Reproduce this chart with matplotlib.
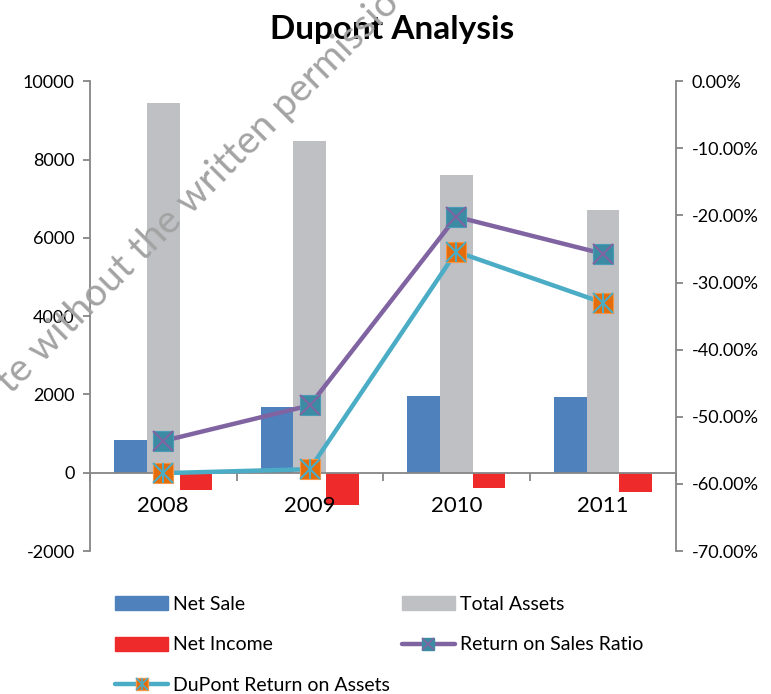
import numpy as np
import matplotlib
matplotlib.use("Agg")
import matplotlib.pyplot as plt
from matplotlib.lines import Line2D
from matplotlib.patches import Patch
from matplotlib.legend_handler import HandlerTuple
from matplotlib.ticker import FuncFormatter, FixedLocator

plt.rcParams['font.family'] = ['Lato', 'DejaVu Sans']
plt.rcParams['axes.unicode_minus'] = False

years = ["2008", "2009", "2010", "2011"]
net_sale = [840, 1680, 1960, 1940]
total_assets = [9450, 8470, 7600, 6710]
net_income = [-430, -820, -380, -480]
return_on_sales = [-0.536, -0.483, -0.202, -0.257]
dupont_roa = [-0.584, -0.578, -0.254, -0.330]

c_sale = '#4F81BD'
c_assets = '#BFC0C4'
c_income = '#EE2A2A'
c_ros = '#8064A2'
c_roa = '#4BACC6'
c_ros_marker = '#3B8CA3'
c_roa_marker = '#E46C0A'
axis_grey = '#868686'

fig = plt.figure(figsize=(7.71, 6.94), dpi=100)
ax = fig.add_axes([0.1167, 0.206, 0.7603, 0.677])
ax.set_axisbelow(False)
ax2 = ax.twinx()

x = np.arange(len(years))
w = 0.2226
ax.bar(x - w, net_sale, w, color=c_sale, zorder=1)
ax.bar(x, total_assets, w, color=c_assets, zorder=1)
ax.bar(x + w, net_income, w, color=c_income, zorder=1)

ax.set_xlim(-0.5, 3.5)
ax.set_ylim(-2000, 10000)
ax.set_yticks(np.arange(-2000, 10001, 2000))

for s in ['top', 'right']:
    ax.spines[s].set_visible(False)
ax.spines['left'].set_color(axis_grey)
ax.spines['left'].set_linewidth(1.3)
ax.spines['bottom'].set_position(('data', 0))
ax.spines['bottom'].set_color(axis_grey)
ax.spines['bottom'].set_linewidth(1.3)
ax.tick_params(axis='y', colors=axis_grey, labelcolor='black', labelsize=13,
               length=5, width=1.3, direction='out', pad=6)
ax.xaxis.set_major_locator(FixedLocator([-0.5, 0.5, 1.5, 2.5, 3.5]))
ax.set_xticklabels([], minor=False)
ax.set_xticks(x, years, minor=True)
ax.tick_params(axis='x', which='major', colors=axis_grey, length=6, width=1.3, direction='out')
ax.tick_params(axis='x', which='minor', length=0, labelsize=16, pad=17, labelcolor='black')
ax.xaxis.set_zorder(3)

ms_sq = 15
ax2.plot(x, return_on_sales, color=c_ros, lw=3.2, zorder=3, solid_capstyle='round')
ax2.plot(x, return_on_sales, ls='none', marker='s', ms=ms_sq, mfc=c_ros_marker, mec='#4A9BB5', mew=0.8, zorder=4)
ax2.plot(x, return_on_sales, ls='none', marker='x', ms=ms_sq - 1, mew=1.5, mec=c_ros, zorder=5)
ax2.plot(x, dupont_roa, color=c_roa, lw=3.2, zorder=3, solid_capstyle='round')
ax2.plot(x, dupont_roa, ls='none', marker='s', ms=ms_sq, mfc=c_roa_marker, mec='#F79646', mew=0.8, zorder=4)
ax2.plot(x, dupont_roa, ls='none', marker='x', ms=ms_sq - 1, mew=1.5, mec=c_roa, zorder=5)
ax2.plot(x, dupont_roa, ls='none', marker='|', ms=ms_sq - 1, mew=1.5, mec=c_roa, zorder=5)

ax2.set_ylim(-0.7, 0)
ax2.set_yticks(np.arange(-0.7, 0.001, 0.1))
ax2.yaxis.set_major_formatter(FuncFormatter(lambda v, p: f"{v*100:.2f}%".replace('-0.00', '0.00')))
for s in ['top', 'left', 'bottom']:
    ax2.spines[s].set_visible(False)
ax2.spines['right'].set_color(axis_grey)
ax2.spines['right'].set_linewidth(1.3)
ax2.tick_params(axis='y', colors=axis_grey, labelcolor='black', labelsize=13,
                length=5, width=1.3, direction='out', pad=6)

fig.text(0.508, 0.958, "Dupont Analysis", ha='center', va='center',
         fontsize=24, fontweight='bold')

# watermark
fig.text(0.257, 0.723, "te without the written permissio", rotation=45,
         ha='center', va='center', rotation_mode='anchor',
         fontsize=28, color='#a3a3a3', zorder=10)

h_sale = Patch(color=c_sale)
h_assets = Patch(color=c_assets)
h_income = Patch(color=c_income)
h_ros = (Line2D([], [], color=c_ros, lw=3.2, solid_capstyle='round'),
         Line2D([], [], ls='none', marker='s', ms=9, mfc=c_ros_marker, mec=c_ros_marker),
         Line2D([], [], ls='none', marker='x', ms=8, mew=1.2, mec=c_ros))
h_roa = (Line2D([], [], color=c_roa, lw=3.2, solid_capstyle='round'),
         Line2D([], [], ls='none', marker='s', ms=9, mfc=c_roa_marker, mec='#F79646'),
         Line2D([], [], ls='none', marker='x', ms=8, mew=1.2, mec=c_roa),
         Line2D([], [], ls='none', marker='|', ms=8, mew=1.2, mec=c_roa))
handles = [h_sale, h_income, h_roa, h_assets, h_ros]
labels = ["Net Sale", "Net Income", "DuPont Return on Assets", "Total Assets", "Return on Sales Ratio"]
fig.legend(handles, labels, ncol=2, loc='upper left', bbox_to_anchor=(0.137, 0.155),
           frameon=False, fontsize=14, borderpad=0, handlelength=2.7, handleheight=0.75,
           handletextpad=0.25, labelspacing=1.2, columnspacing=0.65,
           handler_map={tuple: HandlerTuple(ndivide=1, pad=0)})

fig.savefig("out.png", dpi=100)
